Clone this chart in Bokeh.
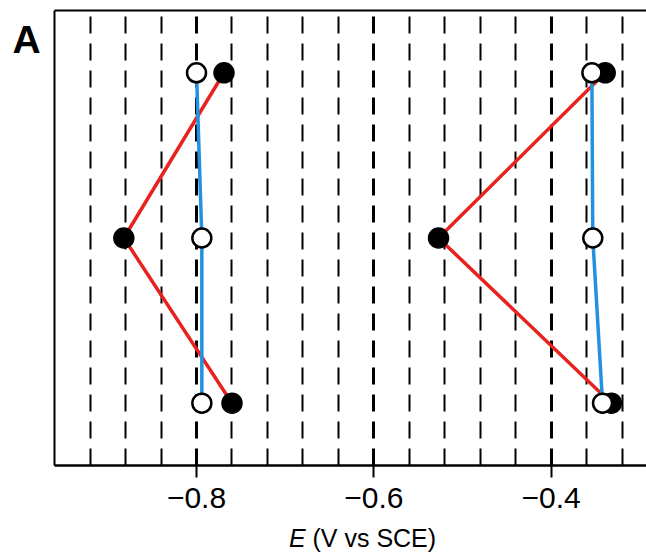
from bokeh.plotting import figure
from bokeh.models import Range1d, FixedTicker, Grid, LinearAxis, Label
from bokeh.embed import file_html
from bokeh.resources import INLINE

# ---------------- data ----------------
levels = [3, 2, 1]                       # vertical positions (top, middle, bottom)
filled_left = [-0.769, -0.882, -0.760]   # filled circles, left group (red line)
open_left = [-0.800, -0.794, -0.794]     # open circles, left group (blue line)
filled_right = [-0.339, -0.527, -0.332]  # filled circles, right group (red line)
open_right = [-0.354, -0.353, -0.342]    # open circles, right group (blue line)

major_ticks = [-0.8, -0.6, -0.4]
tick_labels = ["\u22120.8", "\u22120.6", "\u22120.4"]
grid_thin = [-0.92, -0.88, -0.84, -0.76, -0.72, -0.68, -0.64,
             -0.56, -0.52, -0.48, -0.44, -0.36, -0.32]
grid_thick = [-0.8, -0.6, -0.4]

# ---------------- layout ----------------
W, H = 646, 552
FL, FT, FB = 54, 10, 465          # frame left, top, bottom (px)
X0, PXV = -0.9602, 886.5          # x start, px per volt
Y1, PXY = 3.377, 165.2            # y top, px per unit
x_end = X0 + (W - FL) / PXV
y_start = Y1 - (FB - FT) / PXY

p = figure(width=W, height=H, output_backend="svg", toolbar_location=None,
           x_range=Range1d(X0, x_end), y_range=Range1d(y_start, Y1),
           min_border_left=FL, min_border_right=0, min_border_top=FT,
           min_border_bottom=H - FB, outline_line_color=None,
           background_fill_color="white", border_fill_color="white")

# axes
p.xaxis.ticker = FixedTicker(ticks=major_ticks)
p.xaxis.major_label_overrides = {t: s for t, s in zip(major_ticks, tick_labels)}
p.xaxis.major_label_text_font = "Liberation Sans"
p.xaxis.major_label_text_font_size = "30px"
p.xaxis.major_label_text_color = "black"
p.xaxis.major_label_standoff = 10
p.xaxis.major_tick_out = 12
p.xaxis.major_tick_in = 0
p.xaxis.major_tick_line_width = 2
p.xaxis.major_tick_line_color = "black"
p.xaxis.minor_tick_line_color = None
p.xaxis.minor_tick_out = 0
p.xaxis.axis_line_width = 2.5
p.xaxis.axis_line_color = "black"

p.yaxis.ticker = FixedTicker(ticks=[])
p.yaxis.major_label_text_font_size = "0px"
p.yaxis.major_label_standoff = 0
p.yaxis.major_tick_out = 0
p.yaxis.minor_tick_out = 0
p.yaxis.minor_tick_line_color = None
p.yaxis.major_tick_line_color = None
p.yaxis.axis_line_width = 2
p.yaxis.axis_line_color = "black"

top_axis = LinearAxis(ticker=FixedTicker(ticks=[]), major_label_text_font_size="0px",
                      major_tick_line_color=None, minor_tick_line_color=None,
                      major_tick_out=0, minor_tick_out=0,
                      axis_line_width=2, axis_line_color="black",
                      major_label_standoff=0)
p.add_layout(top_axis, "above")

# grids
p.ygrid.visible = False
p.xgrid.ticker = FixedTicker(ticks=grid_thin)
p.xgrid.grid_line_color = "black"
p.xgrid.grid_line_width = 2
p.xgrid.grid_line_dash = "17 10"
p.xgrid.grid_line_alpha = 1.0
thick = Grid(dimension=0, ticker=FixedTicker(ticks=grid_thick),
             grid_line_color="black", grid_line_width=3, grid_line_dash="17 10")
p.add_layout(thick)

# lines
red = "#e8231f"
blue = "#2191e0"
for fx, ox in [(filled_left, open_left), (filled_right, open_right)]:
    p.line(fx, levels, line_color=red, line_width=3.5)
    p.line(ox, levels, line_color=blue, line_width=3.5)
for fx in (filled_left, filled_right):
    p.scatter(fx, levels, size=20, fill_color="black", line_color="black",
              line_width=1.5)
for ox in (open_left, open_right):
    p.scatter(ox, levels, size=19, fill_color="white", line_color="black",
              line_width=2.5)

# panel letter (canvas coordinates, placed in the left side panel)
p.add_layout(Label(x=12, y=39, x_units="canvas", y_units="canvas", text="A",
                   text_font="Liberation Sans", text_font_style="bold",
                   text_font_size="39px", text_baseline="alphabetic",
                   text_align="left", text_color="black"), "left")

# axis title "E (V vs SCE)": italic E (left side panel) + rest (below panel)
fs = 25
cx = 362
total_em = 0.667 + 0.278 + 1.0 + 0.278 + 1.0 + 0.278 + 2.389
x_e = cx - total_em * fs / 2
p.add_layout(Label(x=x_e, y=537, x_units="canvas", y_units="canvas", text="E",
                   text_font="Liberation Sans", text_font_style="italic",
                   text_font_size=f"{fs}px", text_baseline="alphabetic",
                   text_align="left", text_color="black"), "left")
p.add_layout(Label(x=x_e + (0.667 + 0.278) * fs, y=537, x_units="canvas",
                   y_units="canvas", text="(V vs SCE)",
                   text_font="Liberation Sans", text_font_style="normal",
                   text_font_size=f"{fs}px", text_baseline="alphabetic",
                   text_align="left", text_color="black"), "below")

open("out.html", "w").write(file_html(p, INLINE))
